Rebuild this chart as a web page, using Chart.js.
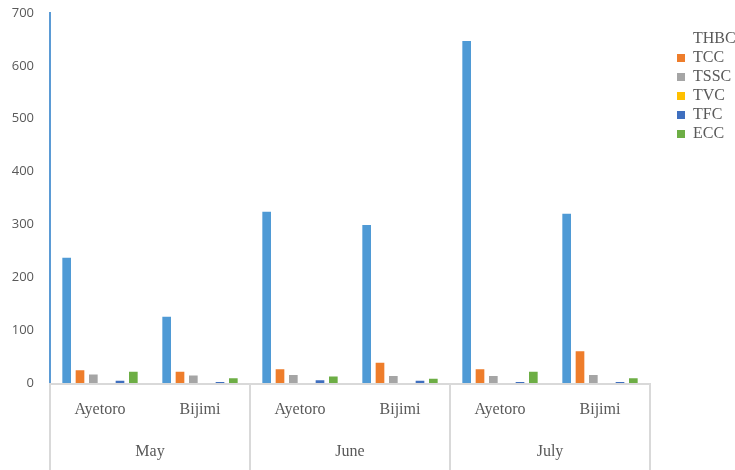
<!DOCTYPE html>
<html>
<head>
<meta charset="utf-8">
<script src="https://cdn.jsdelivr.net/npm/chart.js@4/dist/chart.umd.min.js"></script>
<style>
html,body{margin:0;padding:0;background:#fff;}
#wrap{width:735px;height:470px;position:relative;}
</style>
</head>
<body>
<div id="wrap"><canvas id="c" width="735" height="470"></canvas></div>
<script>
// ---- data ----
const sites = ["Ayetoro", "Bijimi", "Ayetoro", "Bijimi", "Ayetoro", "Bijimi"];
const months = ["May", "June", "July"];
const seriesNames = ["THBC", "TCC", "TSSC", "TVC", "TFC", "ECC"];
const THBC = [239, 127, 326, 301, 649, 322];
const TCC  = [26, 23, 28, 40, 28, 62];
const TSSC = [18, 16, 17, 15, 15, 17];
const TVC  = [0, 0, 0, 0, 0, 0];
const TFC  = [6, 4, 7, 6, 4, 4];
const ECC  = [23, 11, 14, 10, 23, 11];
const yTicks = [0, 100, 200, 300, 400, 500, 600, 700];

const seriesValues = [THBC, TCC, TSSC, TVC, TFC, ECC];
const colors = ["#4F9AD5", "#EE7D2B", "#A5A5A5", "#FFC000", "#3F6FBF", "#6DAE45"];

const serif = "'Liberation Serif', 'Times New Roman', serif";
const sans = "'Open Sans', 'Liberation Sans', Arial, sans-serif";

const LEGEND_W = 85;

const groupLines = {
  id: 'groupLines',
  beforeUpdate(chart) {
    const lg = chart.legend;
    if (lg && !lg._patched) {
      const orig = lg.fit.bind(lg);
      lg.fit = function () { orig(); this.width = LEGEND_W; this.minSize = { width: LEGEND_W, height: this.height }; };
      lg._patched = true;
    }
  },
  afterLayout(chart) {
    const lg = chart.legend;
    if (lg) {
      lg.left = 674; lg.right = 735;
      lg.top = 28; lg.bottom = chart.chartArea.bottom;
    }
  },
  afterDraw(chart) {
    const ctx = chart.ctx;
    const xs = chart.scales.x;
    const ca = chart.chartArea;
    const bottom = chart.height;
    const bounds = [xs.left];
    for (let i = 1; i < months.length; i++) {
      const a = xs.getPixelForValue(i * 2 - 1), b = xs.getPixelForValue(i * 2);
      bounds.push((a + b) / 2);
    }
    bounds.push(xs.right);
    ctx.save();
    ctx.strokeStyle = '#D9D9D9';
    ctx.lineWidth = 2;
    ctx.beginPath();
    ctx.moveTo(xs.left, ca.bottom + 1);
    ctx.lineTo(xs.right, ca.bottom + 1);
    bounds.forEach(bx => { ctx.moveTo(bx, ca.bottom); ctx.lineTo(bx, bottom); });
    ctx.stroke();
    ctx.restore();
  }
};

new Chart(document.getElementById('c'), {
  type: 'bar',
  data: {
    labels: sites,
    datasets: seriesNames.map((n, i) => ({
      label: n,
      data: seriesValues[i],
      backgroundColor: colors[i],
      borderColor: 'rgba(255,255,255,0.35)',
      borderWidth: 1,
      categoryPercentage: 0.8,
      barPercentage: 0.8
    }))
  },
  options: {
    responsive: false,
    animation: false,
    layout: { padding: { top: 13, right: 0, left: 0, bottom: 0 } },
    plugins: {
      tooltip: { enabled: false },
      legend: {
        position: 'right',
        align: 'start',
        labels: {
          boxWidth: 8,
          boxHeight: 8,
          padding: 3,
          color: '#595959',
          font: { family: serif, size: 16 },
          generateLabels(chart) {
            const items = Chart.defaults.plugins.legend.labels.generateLabels(chart);
            items.forEach((it, i) => {
              it.lineWidth = 0;
              it.strokeStyle = 'rgba(0,0,0,0)';
              if (i === 0) it.fillStyle = 'rgba(0,0,0,0)';
            });
            return items;
          }
        }
      }
    },
    scales: {
      y: {
        min: 0, max: 700,
        afterBuildTicks(s) { s.ticks = yTicks.map(v => ({ value: v })); },
        afterFit(s) { s.width = 50; s.paddingTop = 0; s.paddingBottom = 0; },
        grid: { display: false, drawTicks: false },
        border: { display: true, color: '#5B9BD5', width: 2 },
        ticks: { color: '#595959', font: { family: sans, size: 13 }, padding: 16 }
      },
      x: {
        position: 'bottom',
        offset: true,
        grid: { display: false, drawTicks: false },
        border: { display: false },
        afterFit(s) { s.height = 45; s.paddingLeft = 0; s.paddingRight = 0; },
        ticks: { color: '#595959', font: { family: serif, size: 16 }, padding: 17, maxRotation: 0, autoSkip: false }
      },
      x2: {
        type: 'category',
        labels: months,
        position: 'bottom',
        offset: true,
        grid: { display: false, drawTicks: false },
        border: { display: false },
        afterFit(s) { s.height = 42; s.paddingLeft = 0; s.paddingRight = 0; },
        ticks: { color: '#595959', font: { family: serif, size: 16 }, padding: 14, maxRotation: 0, autoSkip: false }
      }
    }
  },
  plugins: [groupLines]
});
</script>
</body>
</html>
